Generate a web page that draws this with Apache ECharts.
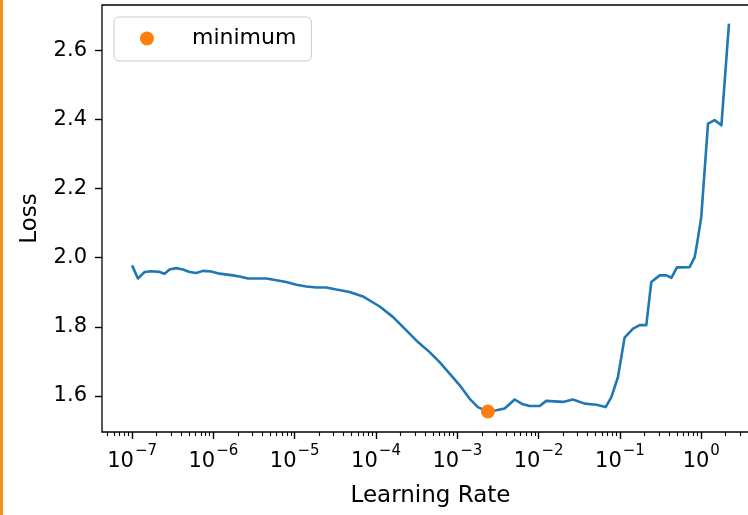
<!DOCTYPE html>
<html>
<head>
<meta charset="utf-8">
<script src="https://cdn.jsdelivr.net/npm/echarts@6/dist/echarts.min.js"></script>
<style>
  html, body { margin: 0; padding: 0; background: #fff; }
  #chart { width: 748px; height: 515px; }
</style>
</head>
<body>
<div id="chart"></div>
<script>
// Learning-rate sweep: learning rate vs. training loss
const learningRates = [
  1.0e-7, 1.18e-7, 1.43e-7, 1.72e-7, 2.18e-7, 2.51e-7, 2.89e-7, 3.50e-7, 4.22e-7, 5.10e-7,
  6.16e-7, 7.43e-7, 9.42e-7, 1.19e-6, 1.74e-6, 2.10e-6, 2.66e-6, 3.37e-6, 4.48e-6, 5.94e-6,
  7.88e-6, 1.05e-5, 1.39e-5, 1.85e-5, 2.45e-5, 3.25e-5, 4.73e-5, 6.90e-5, 1.11e-4, 1.61e-4,
  2.36e-4, 3.28e-4, 4.56e-4, 6.05e-4, 8.04e-4, 1.07e-3, 1.42e-3, 1.79e-3, 2.38e-3, 3.02e-3,
  3.82e-3, 5.07e-3, 6.41e-3, 7.75e-3, 1.03e-2, 1.24e-2, 1.99e-2, 2.64e-2, 3.68e-2, 5.13e-2,
  6.67e-2, 7.84e-2, 9.45e-2, 0.114, 0.145, 0.175, 0.211, 0.243, 0.308, 0.372,
  0.429, 0.502, 0.719, 0.830, 0.877, 1.00, 1.21, 1.46, 1.77, 2.19
];
const losses = [
  1.978, 1.940, 1.959, 1.961, 1.959, 1.954, 1.966, 1.970, 1.966, 1.959,
  1.956, 1.962, 1.960, 1.954, 1.949, 1.946, 1.940, 1.940, 1.940, 1.935,
  1.930, 1.922, 1.917, 1.914, 1.914, 1.908, 1.901, 1.888, 1.859, 1.829,
  1.790, 1.756, 1.727, 1.698, 1.665, 1.631, 1.592, 1.568, 1.555, 1.559,
  1.564, 1.590, 1.576, 1.571, 1.571, 1.586, 1.583, 1.590, 1.578, 1.575,
  1.568, 1.597, 1.655, 1.769, 1.795, 1.805, 1.805, 1.930, 1.949, 1.949,
  1.942, 1.972, 1.973, 2.002, 2.033, 2.118, 2.388, 2.398, 2.383, 2.677
];
// Suggested learning rate (lowest loss)
const minimumLr = [2.38e-3];
const minimumLoss = [1.555];

const majorExponents = [-7, -6, -5, -4, -3, -2, -1, 0];
const yTicks = [1.6, 1.8, 2.0, 2.2, 2.4, 2.6];

// Axis extents (log10 of learning rate on x)
const xMin = -7.37, xMax = 0.71;
const yMin = 1.496, yMax = 2.731;

const FONT = 'DejaVu Sans';
const INK = '#000';

// Minor tick positions of a base-10 log axis: k * 10^n, k = 2..9
const minorTicks = [];
for (let n = -8; n <= 0; n++) {
  for (let k = 2; k <= 9; k++) {
    const v = Math.log10(k) + n;
    if (v > xMin && v < xMax) minorTicks.push(v);
  }
}

const lineData = learningRates.map((lr, i) => [Math.log10(lr), losses[i]]);
const minData = minimumLr.map((lr, i) => [Math.log10(lr), minimumLoss[i]]);

const chart = echarts.init(document.getElementById('chart'), null, { renderer: 'canvas' });

chart.setOption({
  animation: false,
  backgroundColor: '#fff',
  textStyle: { fontFamily: FONT },
  graphic: [
    { type: 'rect', left: 0, top: 0, shape: { width: 3, height: 515 }, style: { fill: '#fb8c1e' } }
  ],
  grid: {
    left: 102, top: 5, width: 657, height: 427,
    outerBoundsMode: 'none', containLabel: false,
    show: true, borderColor: INK, borderWidth: 1.3, backgroundColor: 'transparent'
  },
  legend: {
    data: ['minimum'],
    left: 114, top: 17,
    orient: 'horizontal',
    icon: 'circle',
    itemWidth: 14, itemHeight: 14,
    padding: [9, 15, 10, 26],
    borderColor: '#cccccc', borderWidth: 1, borderRadius: 5,
    backgroundColor: 'rgba(255,255,255,0.8)',
    formatter: name => '{g|}' + name,
    textStyle: {
      fontFamily: FONT, fontSize: 22, color: INK, lineHeight: 25,
      rich: { g: { width: 33, height: 1 } }
    }
  },
  xAxis: [
    {
      type: 'value', min: xMin, max: xMax, position: 'bottom',
      name: 'Learning Rate', nameLocation: 'middle', nameGap: 53,
      nameTextStyle: { fontFamily: FONT, fontSize: 23, color: INK },
      axisLine: { show: false, onZero: false },
      splitLine: { show: false },
      axisTick: { show: true, customValues: majorExponents, length: 7, lineStyle: { color: INK, width: 1.4 } },
      axisLabel: {
        customValues: majorExponents,
        margin: 12,
        formatter: v => '{b|10}{s|' + (v < 0 ? '\u2212' + (-v) : String(v)) + '}',
        rich: {
          b: { fontFamily: FONT, fontSize: 21, color: INK, lineHeight: 28, verticalAlign: 'bottom' },
          s: { fontFamily: FONT, fontSize: 15, color: INK, lineHeight: 28, verticalAlign: 'top', padding: [0, 0, 0, 1] }
        }
      }
    },
    {
      type: 'value', min: xMin, max: xMax, position: 'bottom', offset: 0,
      axisLine: { show: false, onZero: false },
      splitLine: { show: false },
      axisTick: { show: true, customValues: minorTicks, length: 4, lineStyle: { color: INK, width: 1.1 } },
      axisLabel: { show: false }
    }
  ],
  yAxis: {
    type: 'value', min: yMin, max: yMax,
    name: 'Loss', nameLocation: 'middle', nameGap: 60, nameRotate: 90,
    nameTextStyle: { fontFamily: FONT, fontSize: 23, color: INK },
    axisLine: { show: false, onZero: false },
    splitLine: { show: false },
    axisTick: { show: true, customValues: yTicks, length: 7, lineStyle: { color: INK, width: 1.4 } },
    axisLabel: {
      customValues: yTicks, margin: 15,
      fontFamily: FONT, fontSize: 21, color: INK,
      formatter: v => v.toFixed(1)
    }
  },
  series: [
    {
      type: 'line', xAxisIndex: 0,
      data: lineData,
      showSymbol: false, symbol: 'none',
      lineStyle: { color: '#1f77b4', width: 2.6, join: 'round' },
      z: 2
    },
    {
      type: 'scatter', name: 'minimum', xAxisIndex: 0,
      data: minData,
      symbol: 'circle', symbolSize: 14,
      itemStyle: { color: '#ff7f0e', opacity: 1 },
      z: 3
    }
  ]
});
</script>
</body>
</html>
